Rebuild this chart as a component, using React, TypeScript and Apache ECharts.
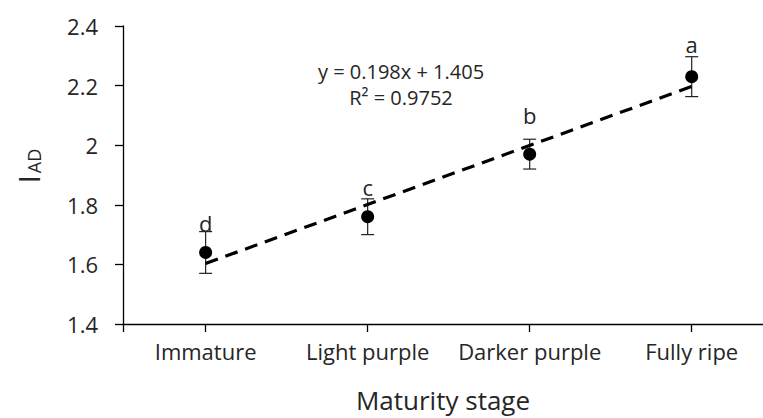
import React, { useEffect, useRef } from "react";
import * as echarts from "echarts";

const categories = ["Immature", "Light purple", "Darker purple", "Fully ripe"];
const stageX = [1, 2, 3, 4];
const meanValues = [1.64, 1.76, 1.97, 2.23];
const errorValues = [0.07, 0.06, 0.05, 0.067];
const letters = ["d", "c", "b", "a"];
const letterValues = [1.71, 1.83, 2.07, 2.31];
const trendX = [1, 4];
const trendValues = [1.603, 2.197];
const equationLines = ["y = 0.198x + 1.405", "R² = 0.9752"];
const xTitle = "Maturity stage";

const FONT = "'Open Sans', sans-serif";
const TEXT = "#262626";

export default function App() {
  const ref = useRef<HTMLDivElement | null>(null);

  useEffect(() => {
    document.body.style.margin = "0";
    if (!ref.current) return;
    const chart = echarts.init(ref.current, undefined, { renderer: "svg" });

    const errData = stageX.map((x, i) => [
      x,
      meanValues[i] - errorValues[i],
      meanValues[i] + errorValues[i],
      letterValues[i],
    ]);

    const option: any = {
      animation: false,
      grid: { left: 123, right: 0, top: 26, bottom: 94 },
      xAxis: {
        type: "value",
        min: 0.49,
        max: 4.44,
        axisLine: { onZero: false, lineStyle: { color: "#000", width: 1.3 } },
        axisTick: {
          show: true,
          customValues: [0.49, 1, 2, 3, 4],
          length: 8,
          lineStyle: { color: "#000", width: 1.3 },
        },
        axisLabel: {
          customValues: stageX,
          formatter: (v: number) => categories[Math.round(v) - 1] ?? "",
          fontFamily: FONT,
          fontSize: 22,
          color: TEXT,
          margin: 16,
        },
        splitLine: { show: false },
      },
      yAxis: {
        type: "value",
        min: 1.4,
        max: 2.4,
        interval: 0.2,
        name: "{i|I}{s|AD}",
        nameLocation: "middle",
        nameRotate: 90,
        nameGap: 80,
        nameTextStyle: {
          padding: [0, 0, 0, 18],
          rich: {
            i: { fontFamily: FONT, fontSize: 29, color: TEXT, verticalAlign: "bottom" },
            s: { fontFamily: FONT, fontSize: 18, color: TEXT, verticalAlign: "bottom", padding: [0, 0, 0, 2] },
          },
        },
        axisLine: { show: true, onZero: false, lineStyle: { color: "#000", width: 1.3 } },
        axisTick: { show: true, length: 8, lineStyle: { color: "#000", width: 1.3 } },
        axisLabel: {
          formatter: (v: number) => String(+v.toFixed(1)),
          fontFamily: FONT,
          fontSize: 22,
          color: TEXT,
          margin: 25,
        },
        splitLine: { show: false },
      },
      graphic: [
        {
          type: "text",
          x: 401,
          y: 71,
          style: {
            text: equationLines[0],
            font: `20px ${FONT}`,
            fill: TEXT,
            align: "center",
            verticalAlign: "middle",
          },
        },
        {
          type: "text",
          x: 401,
          y: 97,
          style: {
            text: equationLines[1],
            font: `20px ${FONT}`,
            fill: TEXT,
            align: "center",
            verticalAlign: "middle",
          },
        },
        {
          type: "text",
          x: 443,
          y: 400,
          style: {
            text: xTitle,
            font: `26px ${FONT}`,
            fill: TEXT,
            align: "center",
            verticalAlign: "middle",
          },
        },
      ],
      series: [
        {
          type: "custom",
          z: 2,
          data: errData,
          encode: { x: 0, y: [1, 2] },
          renderItem: (params: any, api: any) => {
            const x = api.value(0);
            const lo = api.coord([x, api.value(1)]);
            const hi = api.coord([x, api.value(2)]);
            const lab = api.coord([x, api.value(3)]);
            const half = 6.5;
            const ls = { stroke: "#222", lineWidth: 1.2 };
            return {
              type: "group",
              children: [
                { type: "line", shape: { x1: lo[0], y1: lo[1], x2: hi[0], y2: hi[1] }, style: ls },
                { type: "line", shape: { x1: lo[0] - half, y1: lo[1], x2: lo[0] + half, y2: lo[1] }, style: ls },
                { type: "line", shape: { x1: hi[0] - half, y1: hi[1], x2: hi[0] + half, y2: hi[1] }, style: ls },
                {
                  type: "text",
                  x: lab[0],
                  y: lab[1] + 2,
                  style: {
                    text: letters[params.dataIndex],
                    font: `22px ${FONT}`,
                    fill: TEXT,
                    align: "center",
                    verticalAlign: "bottom",
                  },
                },
              ],
            };
          },
        },
        {
          type: "scatter",
          z: 3,
          symbol: "circle",
          symbolSize: 13,
          itemStyle: { color: "#000", opacity: 1 },
          data: stageX.map((x, i) => [x, meanValues[i]]),
        },
        {
          type: "line",
          z: 4,
          symbol: "none",
          lineStyle: { color: "#000", width: 3.2, type: [13, 8], cap: "butt" },
          data: trendX.map((x, i) => [x, trendValues[i]]),
        },
      ],
    };

    chart.setOption(option);
    return () => chart.dispose();
  }, []);

  return <div ref={ref} style={{ width: 763, height: 418 }} />;
}
